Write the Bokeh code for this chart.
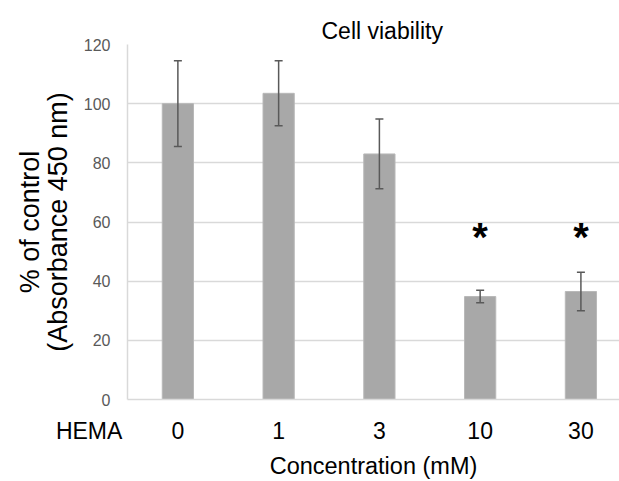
from bokeh.plotting import figure
from bokeh.models import Range1d, FixedTicker, Whisker, ColumnDataSource, TeeHead
from bokeh.core.properties import value
from bokeh.embed import file_html
from bokeh.resources import INLINE

# ---- data ----
categories = ["0", "1", "3", "10", "30"]
means = [100.0, 103.5, 83.0, 34.8, 36.5]
errors = [14.5, 11.0, 11.8, 2.1, 6.5]
significant = [False, False, False, True, True]
y_ticks = [0, 20, 40, 60, 80, 100, 120]
title_text = "Cell viability"
y_label_text = "% of control\n(Absorbance 450 nm)"
x_label_text = "Concentration (mM)"
row_label_text = "HEMA"

FONT = "Liberation Sans"

xs = list(range(len(categories)))
upper = [m + e for m, e in zip(means, errors)]
lower = [m - e for m, e in zip(means, errors)]
src = ColumnDataSource(dict(x=xs, top=means, upper=upper, lower=lower))

x_start = -0.5
p = figure(width=619, height=481, output_backend="svg", toolbar_location=None,
           x_range=Range1d(x_start, 4.383), y_range=Range1d(0, 120),
           min_border_left=127, min_border_right=0, min_border_top=44, min_border_bottom=81,
           title=title_text)
p.outline_line_color = None
p.background_fill_color = "white"

p.title.text_font = FONT
p.title.text_font_size = "23px"
p.title.text_font_style = "normal"
p.title.text_color = "black"
p.title.align = "left"
p.title.offset = 194
p.title.vertical_align = "middle"
p.title.standoff = 0

p.vbar(x="x", top="top", width=0.31, bottom=0, source=src,
       fill_color="#a8a8a8", line_color="#b8b8b8", line_width=1)

w = Whisker(source=src, base="x", upper="upper", lower="lower", level="overlay",
            line_color="#595959", line_width=1.5,
            upper_head=TeeHead(size=8, line_color="#595959", line_width=1.5),
            lower_head=TeeHead(size=8, line_color="#595959", line_width=1.5))
p.add_layout(w)

# significance asterisks
sig_x = [x for x, s in zip(xs, significant) if s]
p.text(x=sig_x, y=[55.0] * len(sig_x), text=["*"] * len(sig_x),
       text_font=value(FONT), text_font_size="40px", text_font_style="bold",
       text_align="center", text_baseline="alphabetic", text_color="black")

# x axis: category labels plus the row label "HEMA" at the left edge
overrides = {i: c for i, c in enumerate(categories)}
overrides[x_start] = row_label_text + "\u00a0" * 12
p.xaxis.ticker = FixedTicker(ticks=[x_start] + xs)
p.xaxis.major_label_overrides = overrides
p.xaxis.major_label_text_font = FONT
p.xaxis.major_label_text_font_size = "23px"
p.xaxis.major_label_text_color = "black"
p.xaxis.major_label_standoff = 12
p.xaxis.major_tick_line_color = None
p.xaxis.minor_tick_line_color = None
p.xaxis.axis_line_color = "#d9d9d9"
p.xaxis.axis_line_width = 1.5
p.xaxis.axis_label = x_label_text
p.xaxis.axis_label_text_font = FONT
p.xaxis.axis_label_text_font_size = "23.5px"
p.xaxis.axis_label_text_font_style = "normal"
p.xaxis.axis_label_text_color = "black"
p.xaxis.axis_label_standoff = 6

p.yaxis.ticker = FixedTicker(ticks=y_ticks)
p.yaxis.major_label_text_font = FONT
p.yaxis.major_label_text_font_size = "16px"
p.yaxis.major_label_text_color = "#595959"
p.yaxis.major_label_standoff = 11
p.yaxis.major_tick_line_color = None
p.yaxis.minor_tick_line_color = None
p.yaxis.axis_line_color = "#d9d9d9"
p.yaxis.axis_line_width = 1.5
p.yaxis.axis_label = y_label_text
p.yaxis.axis_label_text_font = FONT
p.yaxis.axis_label_text_font_size = "27px"
p.yaxis.axis_label_text_font_style = "normal"
p.yaxis.axis_label_text_color = "black"
p.yaxis.axis_label_standoff = 8
p.yaxis.axis_label_text_line_height = 0.92

p.xgrid.grid_line_color = None
p.ygrid.grid_line_color = "#d9d9d9"
p.ygrid.grid_line_width = 1.5

open("out.html", "w").write(file_html(p, INLINE))
